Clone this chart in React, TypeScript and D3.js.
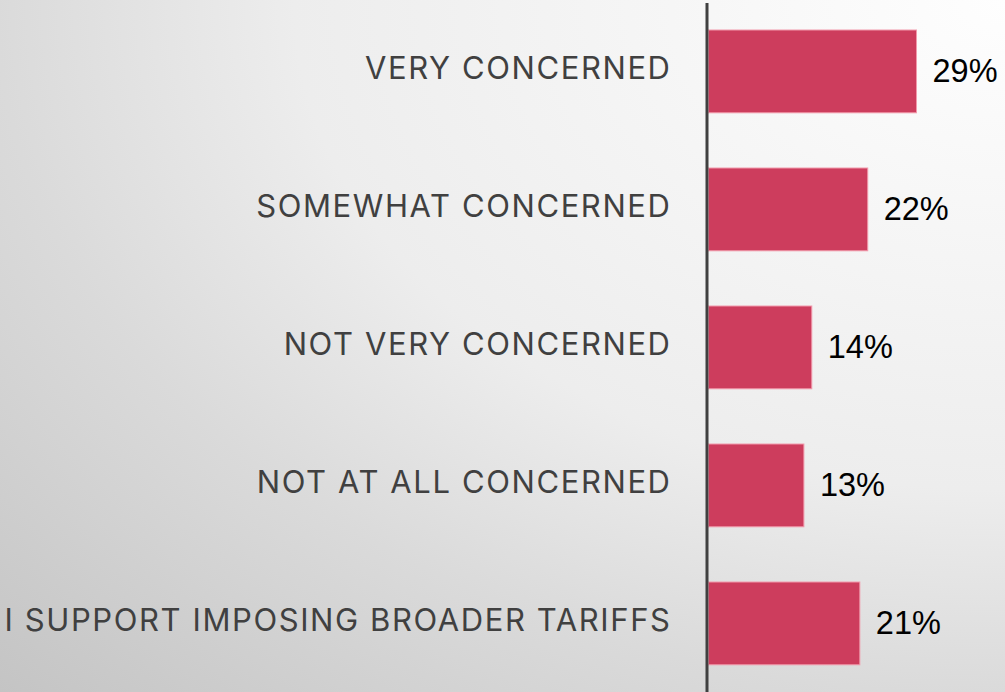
import React, { useEffect } from "react";
import * as d3 from "d3";

const categories = [
  "VERY CONCERNED",
  "SOMEWHAT CONCERNED",
  "NOT VERY CONCERNED",
  "NOT AT ALL CONCERNED",
  "I SUPPORT IMPOSING BROADER TARIFFS",
];
// underlying (unrounded) shares
const values = [29, 22.2, 14.4, 13.3, 21.1];
const valueLabels = ["29%", "22%", "14%", "13%", "21%"];

const W = 1005;
const H = 692;
const axisX = 707;

export default function App() {
  useEffect(() => {
    document.body.style.margin = "0";
  }, []);

  const x = d3.scaleLinear().domain([0, 29]).range([axisX + 1.5, 916.5]);
  const y = d3
    .scaleBand<string>()
    .domain(categories)
    .range([2.4, 692.4])
    .paddingInner(0.4)
    .paddingOuter(0.2);

  return (
    <svg width={W} height={H} style={{ display: "block" }}>
      <defs>
        <radialGradient id="bg" cx="1" cy="0" r="1.414" fx="1" fy="0">
          <stop offset="0" stopColor="#fefefe" />
          <stop offset="0.5" stopColor="#ededed" />
          <stop offset="0.71" stopColor="#dadada" />
          <stop offset="1" stopColor="#c4c4c4" />
        </radialGradient>
      </defs>
      <rect x={0} y={0} width={W} height={H} fill="url(#bg)" />
      {categories.map((c, i) => {
        const y0 = y(c)!;
        const bw = y.bandwidth();
        const cy = y0 + bw / 2;
        return (
          <g key={c}>
            <rect
              x={x(0)}
              y={y0}
              width={x(values[i]) - x(0)}
              height={bw}
              fill="#cd3d5d"
              stroke="#f29aac"
              strokeWidth={1}
            />
            <text
              x={671.6}
              y={cy + 7.5}
              textAnchor="end"
              fontFamily="Inter, 'Liberation Sans', Arial, sans-serif"
              fontSize={31}
              letterSpacing={1.6}
              fill="#404040"
            >
              {c}
            </text>
            <text
              x={x(values[i]) + 16}
              y={cy + 11}
              textAnchor="start"
              fontFamily="'Liberation Sans', Arial, sans-serif"
              fontSize={32.5}
              fill="#000000"
            >
              {valueLabels[i]}
            </text>
          </g>
        );
      })}
      <line x1={axisX} x2={axisX} y1={3} y2={H} stroke="#404040" strokeWidth={3} />
    </svg>
  );
}
